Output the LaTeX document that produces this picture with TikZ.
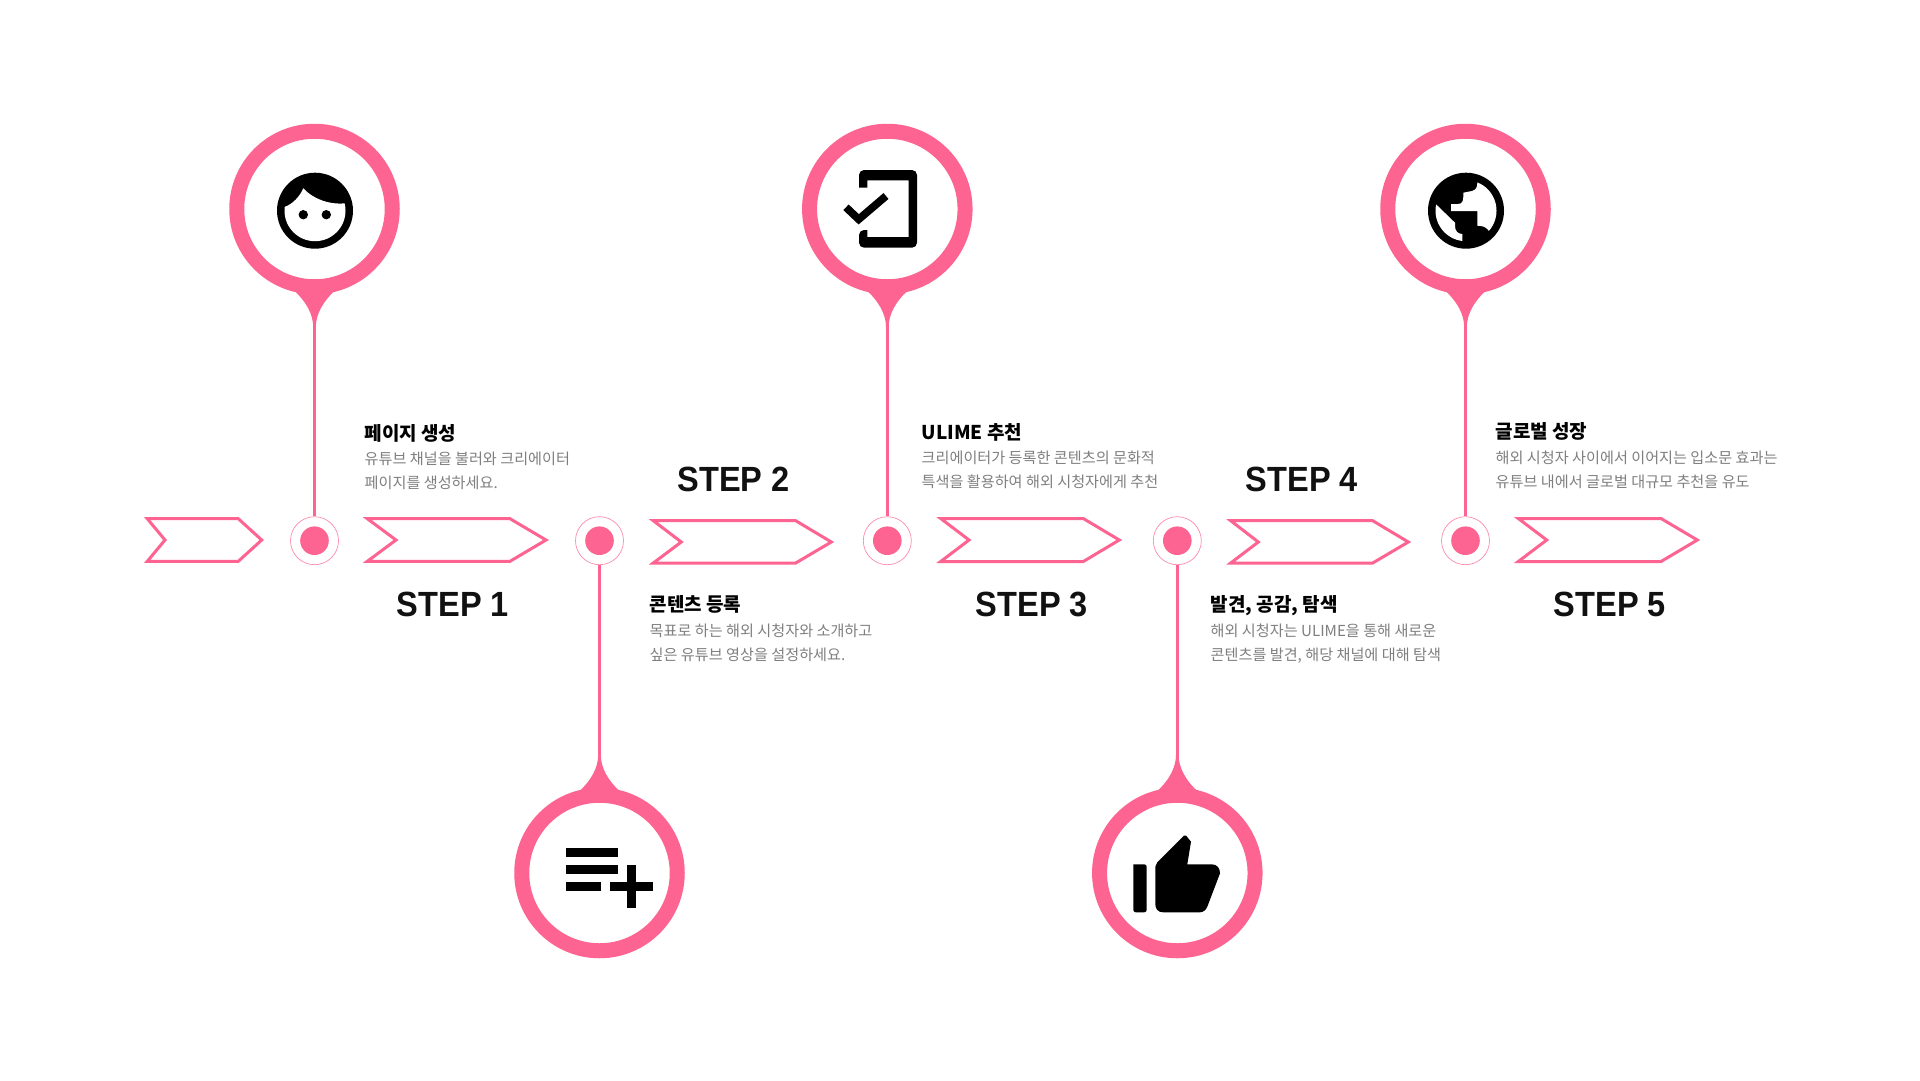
\documentclass[tikz,border=0pt]{standalone}
\usepackage{fontspec}
\newfontfamily\kr{Noto Sans CJK KR}
\newfontfamily\stepfont[FakeStretch=0.93]{Liberation Sans}
\definecolor{pink}{HTML}{FD6491}
\definecolor{desc}{HTML}{7F7F7F}
\definecolor{ink}{HTML}{111111}
\tikzset{
  chevron/.style={draw=pink,line width=3pt,fill=white,miter limit=10},
  bubble/.style={circle,draw=pink,line width=15pt,fill=white,minimum size=155.5pt,inner sep=0pt},
  dotcore/.style={circle,fill=pink,minimum size=28.6pt,inner sep=0pt},
  dotring/.style={circle,draw=pink!75,line width=0.7pt,fill=white,minimum size=48pt,inner sep=0pt},
  stem/.style={draw=pink,line width=2.6pt},
  tear/.style={fill=pink},
  headtext/.style={anchor=base west,inner sep=0pt,font=\kr\bfseries\fontsize{19}{22}\selectfont,text=black},
  desctext/.style={anchor=base west,inner sep=0pt,font=\kr\fontsize{15.15}{18}\selectfont,text=desc},
  steplabel/.style={anchor=base,inner sep=0pt,font=\stepfont\bfseries\fontsize{35}{40}\selectfont,text=ink},
  icon/.style={fill=black}
}
\newcommand\teardrop[2]{\fill[tear,shift={(#1.center)},yscale=#2]
  (-20,82) .. controls (-9,92) and (-1.3,105) .. (-1.3,118) -- (1.3,118) .. controls (1.3,105) and (9,92) .. (20,82) -- (0,76) -- cycle;}
\begin{document}
\begin{tikzpicture}[x=1pt,y=-1pt]
\useasboundingbox[fill=white] (0,0) rectangle (1920,1080);

% chevrons
\draw[chevron] (147.3,518.7) -- (238.3,518.7) -- (261.7,540) -- (238.3,561.3) -- (147.3,561.3) -- (165,540) -- cycle;
\draw[chevron] (367.3,518.7) -- (510,518.7) -- (546,540) -- (510,561.3) -- (367.3,561.3) -- (396,540) -- cycle;
\draw[chevron] (653.3,520.7) -- (795.7,520.7) -- (831.3,542) -- (795.7,563) -- (653.3,563) -- (681.3,542) -- cycle;
\draw[chevron] (940.7,518.5) -- (1083.3,518.5) -- (1119.3,540) -- (1083.3,561.5) -- (940.7,561.5) -- (969,540) -- cycle;
\draw[chevron] (1230.7,520.7) -- (1372.7,520.7) -- (1408.3,542) -- (1372.7,563) -- (1230.7,563) -- (1258.3,542) -- cycle;
\draw[chevron] (1518.3,518.5) -- (1661,518.5) -- (1697.3,540) -- (1661,561.5) -- (1518.3,561.5) -- (1546.7,540) -- cycle;

% dots
\node[dotring] (r1) at (314.5,540.7) {};
\node[dotring] (r2) at (599.5,540.7) {};
\node[dotring] (r3) at (887.3,540.7) {};
\node[dotring] (r4) at (1177.3,540.7) {};
\node[dotring] (r5) at (1465.5,540.7) {};
\node[dotcore] (d1) at (r1) {};
\node[dotcore] (d2) at (r2) {};
\node[dotcore] (d3) at (r3) {};
\node[dotcore] (d4) at (r4) {};
\node[dotcore] (d5) at (r5) {};

% bubbles
\node[bubble] (b1) at (314.5,209) {};
\node[bubble] (b2) at (599.5,873) {};
\node[bubble] (b3) at (887.3,209) {};
\node[bubble] (b4) at (1177.3,873) {};
\node[bubble] (b5) at (1465.5,209) {};

% stems
\draw[stem] (b1) ++(0,105) -- (r1.north);
\draw[stem] (b2) ++(0,-105) -- (r2.south);
\draw[stem] (b3) ++(0,105) -- (r3.north);
\draw[stem] (b4) ++(0,-105) -- (r4.south);
\draw[stem] (b5) ++(0,105) -- (r5.north);
\teardrop{b1}{1}
\teardrop{b2}{-1}
\teardrop{b3}{1}
\teardrop{b4}{-1}
\teardrop{b5}{1}

% face icon
\fill[icon] (315,210.7) circle (38);
\begin{scope}
  \clip (315,210.7) circle (30.5);
  \fill[white] (270,210) -- (285,206.7) .. controls (293,204) and (300,196) .. (303.3,188.3)
     .. controls (312,198) and (328,205) .. (345,203.3) -- (360,203) -- (360,260) -- (270,260) -- cycle;
\end{scope}
\fill[icon] (303.3,214.7) circle (4.7);
\fill[icon] (326.3,214.7) circle (4.7);

% playlist icon
\fill[icon] (566.3,847.7) rectangle (618.3,856.7);
\fill[icon] (566.3,865) rectangle (618.3,873.7);
\fill[icon] (566.3,882.3) rectangle (601,891);
\fill[icon] (609.7,882.3) rectangle (653,891);
\fill[icon] (627,865) rectangle (635.7,908);

% tablet check icon
\fill[icon,rounded corners=5pt] (859,187.7) -- (859,170) -- (917,170) -- (917,247.7) -- (859,247.7) -- (859,230) [sharp corners] -- (867.3,230) -- (867.3,237) -- (908.7,237) -- (908.7,180.3) -- (867.3,180.3) -- (867.3,187.7) -- cycle;
\draw[line width=7.7pt] (846,207.3) -- (858.7,219.3) -- (886,196);

% thumb icon
\fill[icon,rounded corners=2.5pt] (1133.3,864.3) -- (1146.7,864.3) -- (1146.7,912.3) -- (1133.3,912.3) [sharp corners] -- cycle;
\fill[icon] (1157.3,862.3) -- (1184,835.5) -- (1186,835.5) -- (1191,841.7) -- (1187.3,864.3) -- (1211.7,864.3)
  .. controls (1217,864.3) and (1220,868) .. (1220,873.3) -- (1207.3,906.7)
  .. controls (1206,910) and (1203,912.3) .. (1200,912.3) -- (1163.3,912.3)
  .. controls (1158,912.3) and (1155.3,909) .. (1155.3,904) -- (1155.3,866.7) -- cycle;

% globe icon
\fill[icon] (1466,210.7) circle (38);
\begin{scope}
  \clip (1466,210.7) circle (30.5);
  \fill[white] (1477.3,170) -- (1477.3,183.3) .. controls (1477.3,187) and (1476,190) .. (1472,191)
    -- (1463.3,192.7) -- (1463.3,197) .. controls (1463.3,201) and (1462,204) .. (1458,204) -- (1451,204) -- (1451,211) -- (1477.3,211) -- (1477.3,225.7) -- (1481,226) .. controls (1485,226.5) and (1488,229) .. (1489.3,231.7)
    -- (1510,231) -- (1510,170) -- cycle;
  \fill[white] (1420,204) -- (1436,204.3) -- (1455,222.7) -- (1455,226) .. controls (1455,231) and (1458,234) .. (1462.3,234) -- (1462.3,260) -- (1420,260) -- cycle;
\end{scope}

% texts
\node[headtext] (h1) at (364.5,440) {페이지 생성};
\node[desctext] (t1a) at (364.5,464.5) {유튜브 채널을 불러와 크리에이터};
\node[desctext] (t1b) at (364.5,488.5) {페이지를 생성하세요.};
\node[headtext] (h2) at (649.5,611.5) {콘텐츠 등록};
\node[desctext] (t2a) at (649.5,636) {목표로 하는 해외 시청자와 소개하고};
\node[desctext] (t2b) at (649.5,660) {싶은 유튜브 영상을 설정하세요.};
\node[headtext] (h3) at (921.5,439) {ULIME 추천};
\node[desctext] (t3a) at (921.5,463) {크리에이터가 등록한 콘텐츠의 문화적};
\node[desctext] (t3b) at (921.5,487) {특색을 활용하여 해외 시청자에게 추천};
\node[headtext] (h4) at (1210.5,611.5) {발견, 공감, 탐색};
\node[desctext] (t4a) at (1210.5,636) {해외 시청자는 ULIME을 통해 새로운};
\node[desctext] (t4b) at (1210.5,660) {콘텐츠를 발견, 해당 채널에 대해 탐색};
\node[headtext] (h5) at (1495.5,438.5) {글로벌 성장};
\node[desctext] (t5a) at (1495.5,463) {해외 시청자 사이에서 이어지는 입소문 효과는};
\node[desctext] (t5b) at (1495.5,487) {유튜브 내에서 글로벌 대규모 추천을 유도};

\node[steplabel] (s1) at (453,616) {STEP 1};
\node[steplabel] (s2) at (733.5,491) {STEP 2};
\node[steplabel] (s3) at (1032,616) {STEP 3};
\node[steplabel] (s4) at (1302,491) {STEP 4};
\node[steplabel] (s5) at (1610,616) {STEP 5};
\end{tikzpicture}
\end{document}
